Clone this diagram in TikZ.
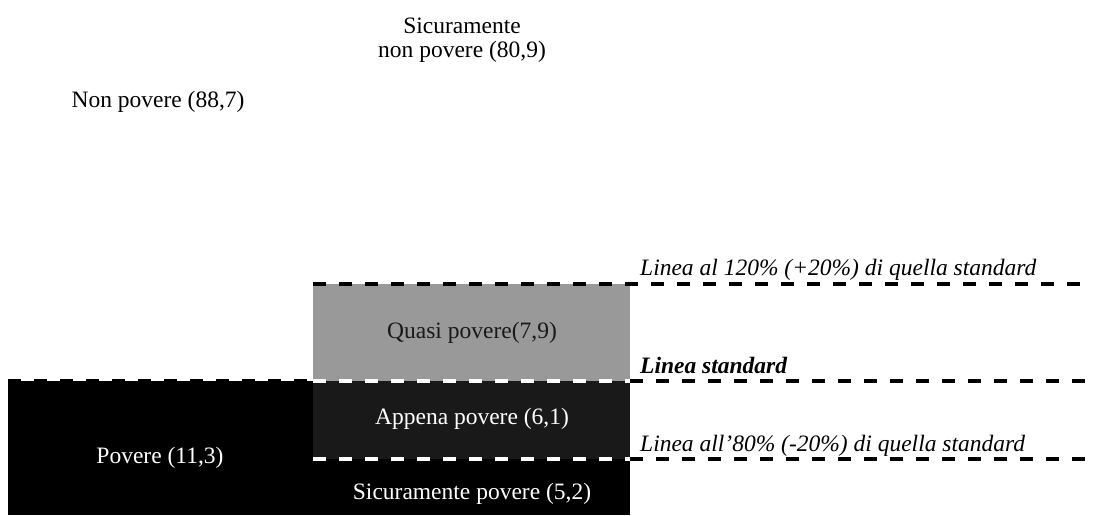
\documentclass[tikz,border=0pt]{standalone}
\usepackage{fontspec}
\setmainfont{Liberation Serif}
\begin{document}
\begin{tikzpicture}[x=1pt,y=1pt,
  lbl/.style={inner sep=0pt,font=\fontsize{23.5}{24}\selectfont},
  dashline/.style={line width=4pt,dash pattern=on 13pt off 13pt},
  wdash/.style={dashline,white},
  bdash/.style={dashline,black}]
\useasboundingbox (0,0) rectangle (1093,515);
% blocks
\fill[black] (8,0) rectangle (630,134);
\fill[black!90] (313,56) rectangle (630,134);
\fill[black!40] (313,134) rectangle (630,231);
% coordinates for lines
\coordinate (hiL) at (313,231);
\coordinate (hiM) at (630,231);
\coordinate (hiR) at (1093,231);
\coordinate (stL) at (8,134);
\coordinate (stA) at (313,134);
\coordinate (stM) at (630,134);
\coordinate (stR) at (1093,134);
\coordinate (loL) at (313,56);
\coordinate (loM) at (630,56);
\coordinate (loR) at (1093,56);
% dashed lines
\draw[bdash] (hiL) -- (hiR);
\draw[bdash] (stL) -- (stA);
\draw[wdash] (stA) -- (stM);
\draw[bdash] (stM) -- (stR);
\draw[wdash] (loL) -- (loM);
\draw[bdash] (loM) -- (loR);
% line labels
\node[lbl,anchor=base west] (lhi) at (640,240) {\itshape Linea al 120\% (+20\%) di quella standard};
\node[lbl,anchor=base west] (lst) at (640,142) {\bfseries\itshape Linea standard};
\node[lbl,anchor=base west] (llo) at (640,64) {\itshape Linea all’80\% (-20\%) di quella standard};
% block labels
\node[lbl,align=center] (sicnon) at (462,475) {Sicuramente\\non povere (80,9)};
\node[lbl] (nonpov) at (158,413) {Non povere (88,7)};
\node[lbl,text=black!90] (quasi) at (472,182) {Quasi povere(7,9)};
\node[lbl,text=white] (appena) at (472,96) {Appena povere (6,1)};
\node[lbl,text=white] (povere) at (160,57) {Povere (11,3)};
\node[lbl,text=white] (sicpov) at (472,21) {Sicuramente povere (5,2)};
\end{tikzpicture}
\end{document}
